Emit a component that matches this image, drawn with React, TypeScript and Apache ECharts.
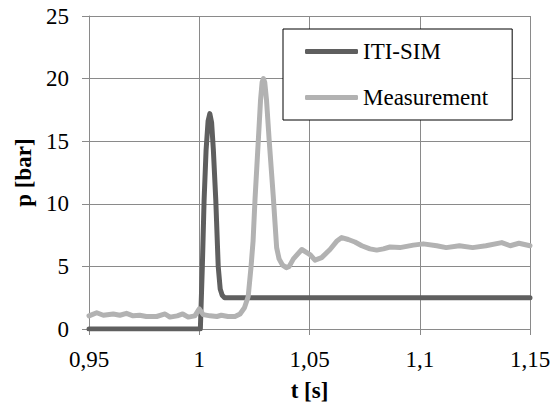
import React, { useEffect, useRef } from "react";
import * as echarts from "echarts";

const xTicks = [0.95, 1.0, 1.05, 1.1, 1.15];
const yTicks = [0, 5, 10, 15, 20, 25];

const itiSim: [number, number][] = [
  [0.95, 0], [1.0005, 0], [1.0014, 5], [1.0022, 10.3], [1.0031, 14.3],
  [1.004, 16.6], [1.0048, 17.2], [1.0056, 16.5], [1.0064, 14.3],
  [1.0075, 10.3], [1.0086, 5.0], [1.0095, 3.2], [1.0104, 2.7],
  [1.0115, 2.5], [1.15, 2.5],
];

const measurement: [number, number][] = [
  [0.95, 1.05], [0.9535, 1.3], [0.9565, 1.1], [0.961, 1.2], [0.964, 1.1],
  [0.967, 1.25], [0.97, 1.05], [0.973, 1.1], [0.976, 1.0], [0.9807, 1.0],
  [0.9845, 1.2], [0.9867, 0.95], [0.99, 1.05], [0.9925, 1.2], [0.995, 0.95],
  [0.998, 1.05], [1.0, 1.6], [1.0018, 1.15], [1.0049, 1.05], [1.008, 1.0],
  [1.01, 1.1], [1.013, 1.0], [1.0162, 1.0], [1.0185, 1.2], [1.0205, 1.7],
  [1.0222, 2.6], [1.0235, 5.0], [1.0244, 7.0], [1.0253, 10.4], [1.0268, 15.1],
  [1.0278, 18.3], [1.0285, 19.7], [1.0291, 20.0], [1.0297, 19.7],
  [1.0305, 18.3], [1.0317, 15.1], [1.0336, 10.5], [1.0351, 6.5],
  [1.0362, 5.6], [1.0378, 5.1], [1.0395, 4.9], [1.0408, 5.0], [1.0427, 5.6],
  [1.0465, 6.35], [1.0502, 5.95], [1.0525, 5.5], [1.0555, 5.7],
  [1.0593, 6.35], [1.0623, 7.0], [1.0646, 7.3], [1.0676, 7.15],
  [1.0706, 6.95], [1.0737, 6.65], [1.0774, 6.4], [1.0805, 6.3],
  [1.0835, 6.4], [1.0865, 6.55], [1.091, 6.5], [1.0971, 6.7], [1.1016, 6.8],
  [1.1077, 6.65], [1.112, 6.5], [1.118, 6.65], [1.124, 6.5], [1.13, 6.65],
  [1.1372, 6.9], [1.141, 6.65], [1.145, 6.85], [1.15, 6.65],
];

const seriesNames = ["ITI-SIM", "Measurement"];
const seriesColors = ["#5f5f5f", "#b2b2b2"];

const FONT = "Liberation Serif";
const GRID = "#8a8a8a";

const css = `.chart-host svg text, .chart-host svg tspan { font-family: 'Liberation Serif', 'Times New Roman', serif !important; }`;

export default function App() {
  const ref = useRef<HTMLDivElement>(null);
  useEffect(() => {
    if (!ref.current) return;
    const chart = echarts.init(ref.current, undefined, { renderer: "svg" });
    chart.setOption({
      animation: false,
      textStyle: { fontFamily: FONT },
      grid: { left: 89, right: 28, top: 16, bottom: 77 },
      legend: {
        orient: "vertical",
        left: 283,
        top: 29,
        padding: [11, 24, 11, 22],
        itemGap: 23,
        itemWidth: 53,
        itemHeight: 5,
        icon: "roundRect",
        borderColor: "#000000",
        borderWidth: 1,
        backgroundColor: "#ffffff",
        textStyle: { fontFamily: FONT, fontSize: 23, color: "#000" },
        data: seriesNames,
      },
      xAxis: {
        type: "value",
        min: xTicks[0],
        max: xTicks[xTicks.length - 1],
        interval: 0.05,
        name: "t [s]",
        nameLocation: "middle",
        nameGap: 50,
        nameTextStyle: { fontFamily: FONT, fontSize: 23, fontWeight: "bold", color: "#000" },
        axisLine: { show: true, lineStyle: { color: GRID, width: 1 } },
        axisTick: { show: true, length: 6, lineStyle: { color: GRID } },
        axisLabel: {
          margin: 19,
          fontFamily: FONT,
          fontSize: 23,
          color: "#000",
          formatter: (v: number) => String(Math.round(v * 100) / 100).replace(".", ","),
        },
        splitLine: { show: true, lineStyle: { color: GRID, width: 1 } },
      },
      yAxis: {
        type: "value",
        min: yTicks[0],
        max: yTicks[yTicks.length - 1],
        interval: 5,
        name: "p [bar]",
        nameLocation: "middle",
        nameGap: 50,
        nameRotate: 90,
        nameTextStyle: { fontFamily: FONT, fontSize: 23, fontWeight: "bold", color: "#000" },
        axisLine: { show: true, lineStyle: { color: GRID, width: 1 } },
        axisTick: { show: true, length: 7, lineStyle: { color: GRID } },
        axisLabel: { margin: 20, fontFamily: FONT, fontSize: 23, color: "#000" },
        splitLine: { show: true, lineStyle: { color: GRID, width: 1 } },
      },
      series: [
        {
          name: seriesNames[0],
          type: "line",
          data: itiSim,
          showSymbol: false,
          symbol: "none",
          color: seriesColors[0],
          lineStyle: { color: seriesColors[0], width: 5, join: "round", cap: "round" },
        },
        {
          name: seriesNames[1],
          type: "line",
          data: measurement,
          showSymbol: false,
          symbol: "none",
          color: seriesColors[1],
          lineStyle: { color: seriesColors[1], width: 5, join: "round", cap: "round" },
        },
      ],
    });
    return () => chart.dispose();
  }, []);
  return (
    <>
      <style>{css}</style>
      <div
        ref={ref}
        className="chart-host"
        style={{ position: "fixed", left: 0, top: 0, width: 558, height: 407, background: "#fff" }}
      />
    </>
  );
}
